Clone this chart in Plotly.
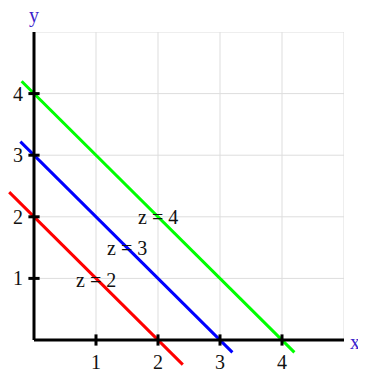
import plotly.graph_objects as go

# Data
z_levels = [2, 3, 4]
line_colors = ["#ff0000", "#0000ff", "#00ff00"]
x_start = [-0.4, -0.22, -0.2]
x_end = [2.4, 3.2, 4.2]
label_x = [1.0, 1.5, 2.0]
label_y = [0.97, 1.5, 2.0]
x_ticks = [1, 2, 3, 4]
y_ticks = [1, 2, 3, 4]
grid_vals = [1, 2, 3, 4, 5]
axis_max = 5

FONT = "Liberation Serif, Times New Roman, serif"
GRID = "#dddddd"

fig = go.Figure()

# Gridlines
for g in grid_vals:
    fig.add_trace(go.Scatter(x=[g, g], y=[0, axis_max], mode="lines",
                             line=dict(color=GRID, width=1), hoverinfo="skip", showlegend=False))
    fig.add_trace(go.Scatter(x=[0, axis_max], y=[g, g], mode="lines",
                             line=dict(color=GRID, width=1), hoverinfo="skip", showlegend=False))

# Level lines x + y = z
for z, c, xs, xe in zip(z_levels, line_colors, x_start, x_end):
    fig.add_trace(go.Scatter(x=[xs, xe], y=[z - xs, z - xe], mode="lines",
                             line=dict(color=c, width=3), showlegend=False))

# Axes lines
fig.add_trace(go.Scatter(x=[0, axis_max], y=[0, 0], mode="lines",
                         line=dict(color="black", width=3), showlegend=False))
fig.add_trace(go.Scatter(x=[0, 0], y=[0, axis_max], mode="lines",
                         line=dict(color="black", width=3), showlegend=False))

# Tick marks
fig.add_trace(go.Scatter(x=x_ticks, y=[0] * len(x_ticks), mode="markers",
                         marker=dict(symbol="line-ns", size=8, line=dict(color="black", width=3)),
                         showlegend=False))
fig.add_trace(go.Scatter(x=[0] * len(y_ticks), y=y_ticks, mode="markers",
                         marker=dict(symbol="line-ew", size=8, line=dict(color="black", width=3)),
                         showlegend=False))

annotations = []
for t in x_ticks:
    annotations.append(dict(x=t, y=0, text=str(t), showarrow=False, yshift=-22,
                            font=dict(family=FONT, size=20, color="#111111")))
for t in y_ticks:
    annotations.append(dict(x=0, y=t, text=str(t), showarrow=False, xshift=-16,
                            font=dict(family=FONT, size=20, color="#111111")))
for z, lx, ly in zip(z_levels, label_x, label_y):
    annotations.append(dict(x=lx, y=ly, text=f"z = {z}", showarrow=False,
                            font=dict(family=FONT, size=20, color="#111111")))
# Axis titles
annotations.append(dict(x=0, y=axis_max, text="y", showarrow=False, yshift=17,
                        font=dict(family=FONT, size=20, color="#3a22cc")))
annotations.append(dict(x=1, xref="paper", y=0, yref="y", text="x", showarrow=False,
                        xanchor="left", xshift=4, yshift=-2,
                        font=dict(family=FONT, size=20, color="#3a22cc")))

fig.update_layout(
    width=358, height=362,
    margin=dict(l=0, r=22, t=24, b=0),
    paper_bgcolor="white", plot_bgcolor="white",
    xaxis=dict(range=[-26 / 62, axis_max], visible=False, fixedrange=True),
    yaxis=dict(range=[-30 / 61.6, axis_max], visible=False, fixedrange=True),
    annotations=annotations,
    showlegend=False,
)

fig.write_html("out.html")
